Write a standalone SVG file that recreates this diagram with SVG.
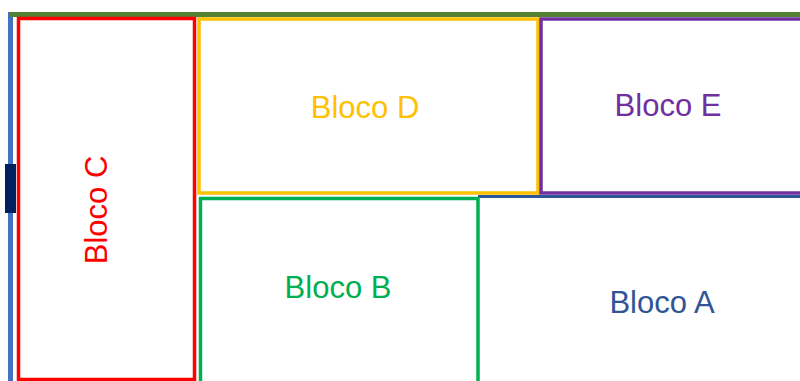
<svg xmlns="http://www.w3.org/2000/svg" width="800" height="381" viewBox="0 0 800 381">
<style>
.blk{fill:#FFFFFF;stroke-width:3.5}
.lbl{font-family:"Liberation Sans",Arial,sans-serif;font-size:31px;text-anchor:middle}
</style>
<rect width="800" height="381" fill="#FFFFFF"/>
<g id="walls">
<rect x="8" y="12" width="5" height="369" fill="#4472C4"/>
<rect x="9" y="12" width="791" height="5" fill="#548235"/>
<rect x="5" y="164" width="11" height="49" fill="#002060"/>
</g>
<g id="bloco-a">
<rect x="478" y="196" width="322" height="185" fill="#FFFFFF"/>
<text class="lbl" x="662" y="313" fill="#2F5597">Bloco A</text>
</g>
<g id="bloco-c">
<rect class="blk" x="18.5" y="18.5" width="176" height="361" stroke="#FF0000" stroke-width="3"/>
<text class="lbl" transform="translate(107,210) rotate(-90)" fill="#FF0000">Bloco C</text>
</g>
<g id="bloco-d">
<rect class="blk" x="199" y="19" width="339" height="174" stroke="#FFC000"/>
<text class="lbl" x="365" y="118" fill="#FFC000">Bloco D</text>
</g>
<g id="bloco-e">
<rect class="blk" x="541" y="19" width="270" height="174" stroke="#7030A0"/>
<text class="lbl" x="668" y="116" fill="#7030A0">Bloco E</text>
</g>
<g id="bloco-a-edge">
<line x1="478" y1="196.5" x2="800" y2="196.5" stroke="#2F5597" stroke-width="3"/>
</g>
<g id="bloco-b">
<rect class="blk" x="200.5" y="198.5" width="277.5" height="200" stroke="#00B050"/>
<text class="lbl" x="338" y="298" fill="#00B050">Bloco B</text>
</g>
<g id="connectors"></g>
</svg>
